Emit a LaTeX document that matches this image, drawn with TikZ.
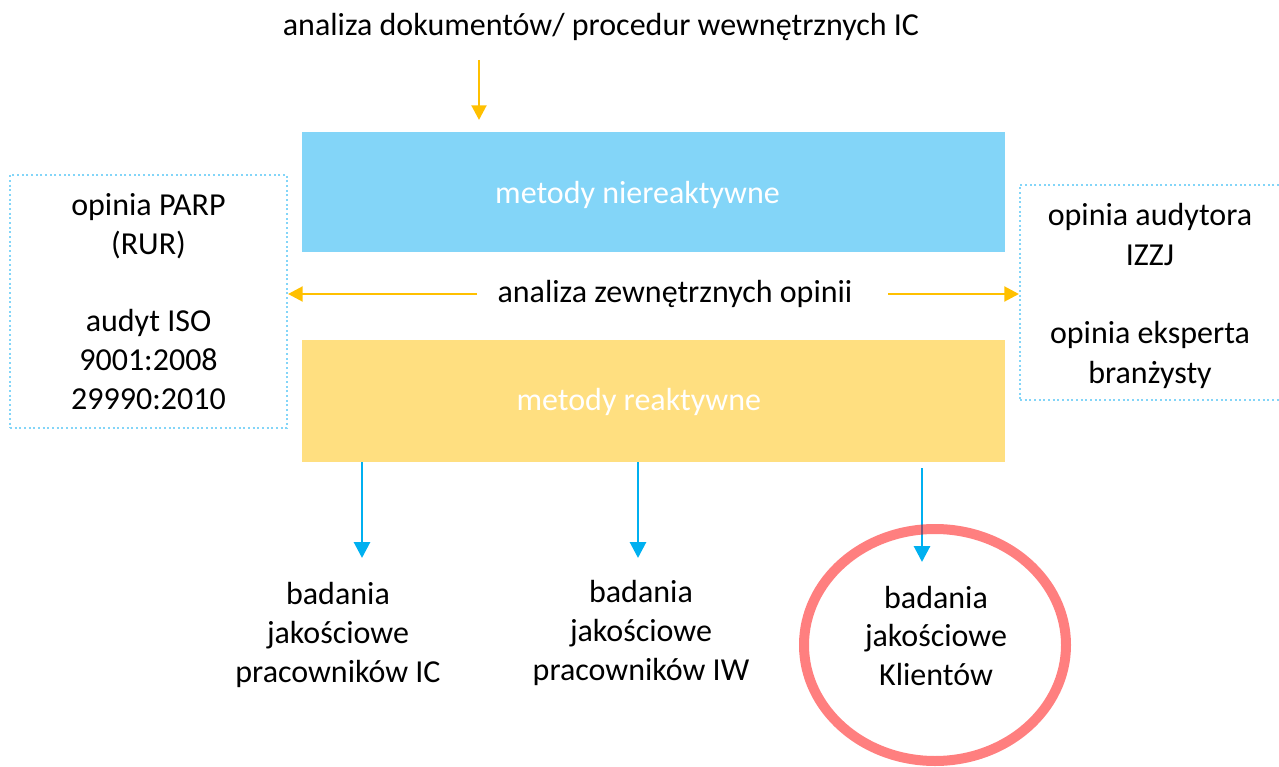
\documentclass[tikz,border=0pt]{standalone}
\usepackage{fontspec}
\setmainfont{Carlito}
\usetikzlibrary{arrows.meta,positioning,shapes.geometric}
\definecolor{niebieski}{HTML}{83D5F8}
\definecolor{zolty}{HTML}{FFDF80}
\definecolor{pomar}{HTML}{FFC000}
\definecolor{strzalka}{HTML}{00B0F0}
\tikzset{
  napis/.style={align=center,font=\fontsize{24}{29}\selectfont,text=black},
  blok/.style={rectangle,minimum width=703*0.75pt,minimum height=120*0.75pt},
  ramka/.style={rectangle,draw=niebieski,dotted,line width=1.5pt,align=center},
  zstrz/.style={draw=pomar,line width=2.2pt,-{Triangle[width=11pt,length=11pt]}},
  nstrz/.style={draw=strzalka,line width=2.2pt,-{Triangle[width=12pt,length=12pt]}}
}

\begin{document}
\begin{tikzpicture}[x=0.75pt,y=-0.75pt]
\useasboundingbox (0,0) rectangle (1279,767);

\node[napis] (dok) at (601,27) {analiza dokumentów/ procedur wewnętrznych IC};

\node[blok,fill=niebieski] (nier) at (653.5,192) {};
\node[blok,fill=zolty,minimum height=122*0.75pt] (reak) at (653.5,401) {};
\node[napis,text=white] (nier-t) at ([xshift=-12pt,yshift=-2pt]nier.center) {metody niereaktywne};
\node[napis,text=white] (reak-t) at ([xshift=-11pt,yshift=-1pt]reak.center) {metody reaktywne};

\node[napis] (zew) at (675,294) {analiza zewnętrznych opinii};

\node[ramka,napis,minimum width=277*0.75pt,minimum height=253*0.75pt,
  font=\fontsize{24}{29}\selectfont] (lewy) at (148.5,301.5)
  {opinia PARP\\(RUR)\\[29pt]audyt ISO\\9001:2008\\29990:2010};
\node[ramka,minimum width=260*0.75pt,minimum height=215*0.75pt] (prawy) at (1150,292.5) {};
\node[napis,font=\fontsize{24}{29.5}\selectfont] (prawy-t) at ([yshift=-2.5pt]prawy.center)
  {opinia audytora\\IZZJ\\[29.5pt]opinia eksperta\\branżysty};

\node[napis] (bic) at (338,635) {badania\\jakościowe\\pracowników IC};
\node[napis] (biw) at (641,633) {badania\\jakościowe\\pracowników IW};
\node[napis] (bkl) at (936,636) {badania\\jakościowe\\Klientów};

% strzalki pomaranczowe
\coordinate (a0) at (479,60);
\coordinate (a1) at (479,120);
\draw[zstrz] (a0) -- (a1);

\coordinate (l0) at (477,294);
\coordinate (p0) at (888,294);
\draw[zstrz] (l0) -- (lewy.east |- l0);
\draw[zstrz] (p0) -- (prawy.west |- p0);

% strzalki niebieskie
\coordinate (b1) at (362,558);
\coordinate (b2) at (638,558);
\coordinate (b3) at (922,562);
\draw[nstrz] (reak.south -| b1) -- (b1);
\draw[nstrz] (reak.south -| b2) -- (b2);
\draw[nstrz] ([yshift=-6*0.75pt]reak.south -| b3) -- (b3);

% kolo
\node[ellipse,draw=red,draw opacity=0.5,line width=7.5pt,
  minimum width=262*0.75pt,minimum height=232*0.75pt] (kolo) at (935,645) {};
\end{tikzpicture}
\end{document}
